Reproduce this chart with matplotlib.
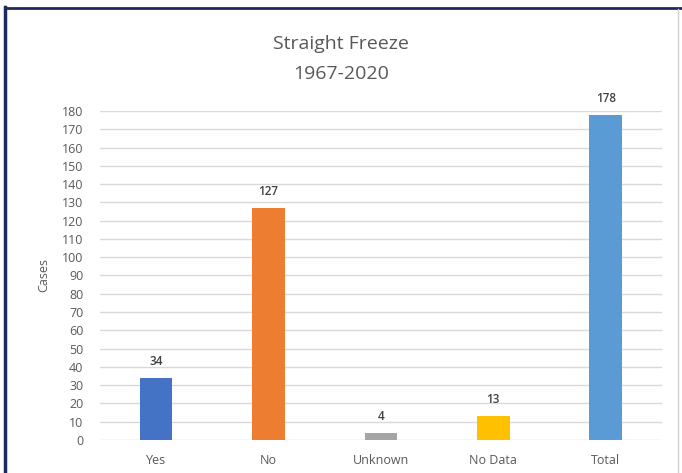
import matplotlib
matplotlib.use("Agg")
import matplotlib.pyplot as plt
from matplotlib.lines import Line2D
import numpy as np

categories = ["Yes", "No", "Unknown", "No Data", "Total"]
cases = [34, 127, 4, 13, 178]
colors = ["#4472C4", "#ED7D31", "#A5A5A5", "#FFC000", "#5B9BD5"]

plt.rcParams['font.family'] = ['Open Sans', 'DejaVu Sans']

fig = plt.figure(figsize=(6.82, 4.73), dpi=100)
ax = fig.add_axes([0.1466, 0.0698, 0.824, 0.6955])

x = np.arange(len(categories))
bars = ax.bar(x, cases, width=0.29, color=colors, zorder=3)

for xi, v in zip(x, cases):
    ax.text(xi, v + 5.5, str(v), ha="center", va="bottom", fontsize=8.5,
            color="#404040", fontweight="semibold")

ax.set_xlim(-0.5, len(categories) - 0.5)
ax.set_ylim(0, 180)
ax.set_yticks(np.arange(0, 181, 10))
ax.set_xticks(x)
ax.set_xticklabels(categories)
ax.tick_params(axis="both", length=0, labelsize=9, colors="#595959")
ax.tick_params(axis="x", pad=10)
ax.tick_params(axis="y", pad=12)
ax.grid(axis="y", color="#D9D9D9", linewidth=1, zorder=0)
for s in ax.spines.values():
    s.set_visible(False)
ax.set_ylabel("Cases", fontsize=9, color="#595959", labelpad=8)

fig.text(0.5, 0.907, "Straight Freeze", ha="center", va="center", fontsize=14, color="#595959")
fig.text(0.5, 0.843, "1967-2020", ha="center", va="center", fontsize=14, color="#595959")

# frame of the screenshot
fig.add_artist(Line2D([0.008, 0.008], [0, 0.985], color="#1F2A5C", linewidth=2.5))
fig.add_artist(Line2D([0.008, 1.0], [0.983, 0.983], color="#1F2A5C", linewidth=2))
fig.add_artist(Line2D([0.994, 0.994], [0, 0.98], color="#D0D0D0", linewidth=1))

fig.savefig("out.png", dpi=100)
